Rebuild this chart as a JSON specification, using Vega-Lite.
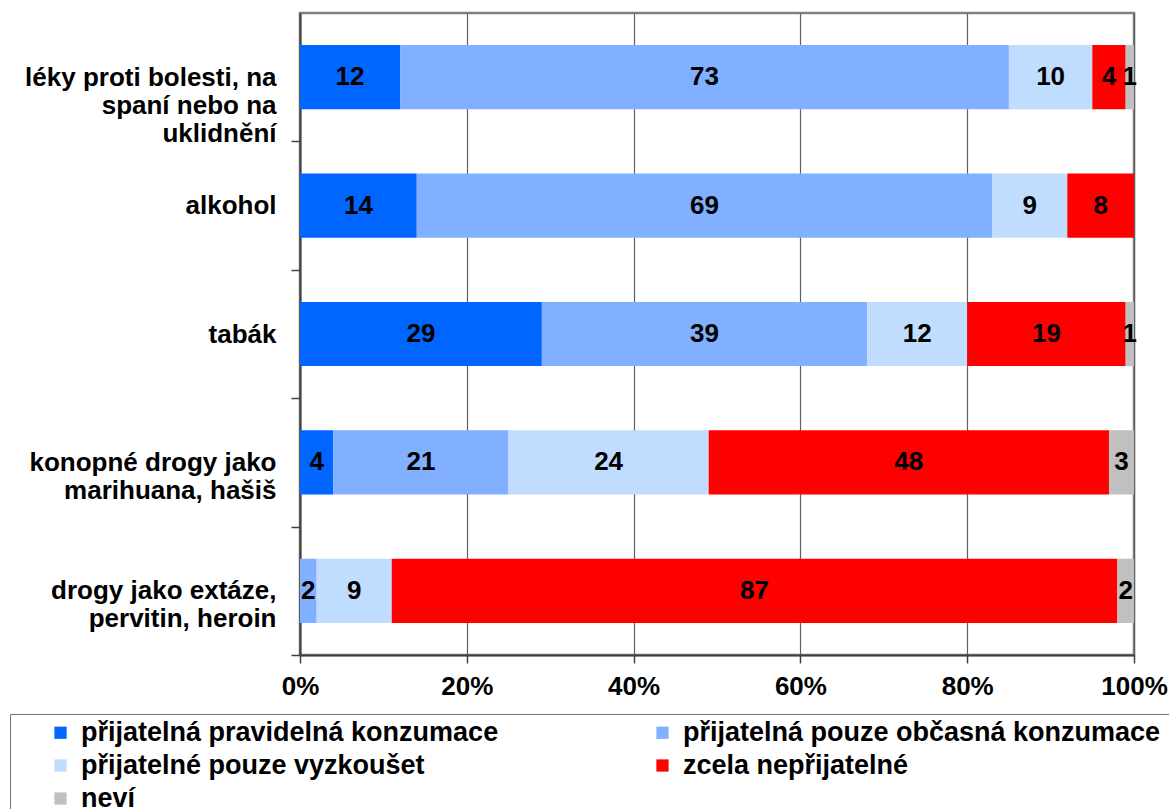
{
  "$schema": "https://vega.github.io/schema/vega-lite/v6.json",
  "width": 834,
  "height": 642,
  "autosize": {"type": "none"},
  "padding": {"left": 300, "top": 13, "right": 35, "bottom": 154},
  "background": "white",
  "config": {
    "font": "Liberation Sans",
    "view": {"stroke": "#808080", "strokeWidth": 2.5}
  },
  "data": {
    "values": [
      {"c": "léky proti bolesti, na|spaní nebo na|uklidnění", "r": "přijatelná pravidelná konzumace", "o": 1, "v": 12},
      {"c": "léky proti bolesti, na|spaní nebo na|uklidnění", "r": "přijatelná pouze občasná konzumace", "o": 2, "v": 73},
      {"c": "léky proti bolesti, na|spaní nebo na|uklidnění", "r": "přijatelné pouze vyzkoušet", "o": 3, "v": 10},
      {"c": "léky proti bolesti, na|spaní nebo na|uklidnění", "r": "zcela nepřijatelné", "o": 4, "v": 4},
      {"c": "léky proti bolesti, na|spaní nebo na|uklidnění", "r": "neví", "o": 5, "v": 1},
      {"c": "alkohol", "r": "přijatelná pravidelná konzumace", "o": 1, "v": 14},
      {"c": "alkohol", "r": "přijatelná pouze občasná konzumace", "o": 2, "v": 69},
      {"c": "alkohol", "r": "přijatelné pouze vyzkoušet", "o": 3, "v": 9},
      {"c": "alkohol", "r": "zcela nepřijatelné", "o": 4, "v": 8},
      {"c": "tabák", "r": "přijatelná pravidelná konzumace", "o": 1, "v": 29},
      {"c": "tabák", "r": "přijatelná pouze občasná konzumace", "o": 2, "v": 39},
      {"c": "tabák", "r": "přijatelné pouze vyzkoušet", "o": 3, "v": 12},
      {"c": "tabák", "r": "zcela nepřijatelné", "o": 4, "v": 19},
      {"c": "tabák", "r": "neví", "o": 5, "v": 1},
      {"c": "konopné drogy jako|marihuana, hašiš", "r": "přijatelná pravidelná konzumace", "o": 1, "v": 4},
      {"c": "konopné drogy jako|marihuana, hašiš", "r": "přijatelná pouze občasná konzumace", "o": 2, "v": 21},
      {"c": "konopné drogy jako|marihuana, hašiš", "r": "přijatelné pouze vyzkoušet", "o": 3, "v": 24},
      {"c": "konopné drogy jako|marihuana, hašiš", "r": "zcela nepřijatelné", "o": 4, "v": 48},
      {"c": "konopné drogy jako|marihuana, hašiš", "r": "neví", "o": 5, "v": 3},
      {"c": "drogy jako extáze,|pervitin, heroin", "r": "přijatelná pouze občasná konzumace", "o": 2, "v": 2},
      {"c": "drogy jako extáze,|pervitin, heroin", "r": "přijatelné pouze vyzkoušet", "o": 3, "v": 9},
      {"c": "drogy jako extáze,|pervitin, heroin", "r": "zcela nepřijatelné", "o": 4, "v": 87},
      {"c": "drogy jako extáze,|pervitin, heroin", "r": "neví", "o": 5, "v": 2}
    ]
  },
  "encoding": {
    "y": {
      "field": "c",
      "type": "nominal",
      "sort": null,
      "title": null,
      "scale": {"paddingInner": 0.5, "paddingOuter": 0.25},
      "axis": {
        "labelExpr": "split(datum.label, '|')",
        "labelFont": "Liberation Sans",
        "labelFontSize": 26,
        "labelFontWeight": "bold",
        "labelColor": "black",
        "labelLineHeight": 28,
        "labelLimit": 400,
        "labelAlign": "right",
        "labelPadding": 15,
        "tickOffset": 64.2,
        "labelOffset": -64.2,
        "tickSize": 9,
        "tickColor": "#404040",
        "tickWidth": 1.5,
        "domainColor": "#404040",
        "domainWidth": 2,
        "grid": false
      }
    }
  },
  "layer": [
    {
      "mark": {"type": "bar"},
      "encoding": {
        "x": {
          "field": "v",
          "type": "quantitative",
          "stack": "zero",
          "title": null,
          "scale": {"domain": [0, 100], "nice": false},
          "axis": {
            "values": [0, 20, 40, 60, 80, 100],
            "labelExpr": "datum.value + '%'",
            "labelFont": "Liberation Sans",
            "labelFontSize": 26,
            "labelFontWeight": "bold",
            "labelColor": "black",
            "labelPadding": 10,
            "labelFlush": false,
            "labelOverlap": false,
            "tickSize": 8,
            "tickColor": "#404040",
            "tickWidth": 1.5,
            "domainColor": "#404040",
            "domainWidth": 2,
            "grid": true,
            "gridColor": "#606060",
            "gridWidth": 1.2,
            "gridOpacity": 1
          }
        },
        "color": {
          "field": "r",
          "type": "nominal",
          "scale": {
            "domain": ["přijatelná pravidelná konzumace", "přijatelná pouze občasná konzumace", "přijatelné pouze vyzkoušet", "zcela nepřijatelné", "neví"],
            "range": ["#0066FF", "#80B0FF", "#C0DCFF", "#FF0000", "#C0C0C0"]
          },
          "legend": {
            "orient": "none",
            "legendX": -290,
            "legendY": 701,
            "direction": "horizontal",
            "columns": 2,
            "columnPadding": 150,
            "rowPadding": 5,
            "padding": 5,
            "strokeColor": "#707070",
            "fillColor": "white",
            "title": "\u2800\u2800\u2800",
            "titleOrient": "left",
            "titleFont": "DejaVu Sans",
            "titleFontSize": 14.5,
            "titleFontWeight": "normal",
            "titlePadding": 0,
            "symbolType": "square",
            "symbolSize": 150,
            "symbolStrokeWidth": 0,
            "symbolOpacity": 1,
            "labelFont": "Liberation Sans",
            "labelFontSize": 27,
            "labelFontWeight": "bold",
            "labelColor": "black",
            "labelOffset": 7,
            "labelLimit": 900,
            "labelExpr": "datum.label == 'přijatelná pouze občasná konzumace' ? datum.label + '\u2800\u2800\u2800' : datum.label"
          }
        },
        "order": {"field": "o"}
      }
    },
    {
      "mark": {"type": "text", "font": "Liberation Sans", "fontSize": 26, "fontWeight": "bold", "color": "black", "baseline": "middle", "align": "center"},
      "encoding": {
        "x": {"field": "v", "type": "quantitative", "stack": "zero", "bandPosition": 0.5},
        "text": {"field": "v", "type": "quantitative"},
        "order": {"field": "o"}
      }
    }
  ]
}
